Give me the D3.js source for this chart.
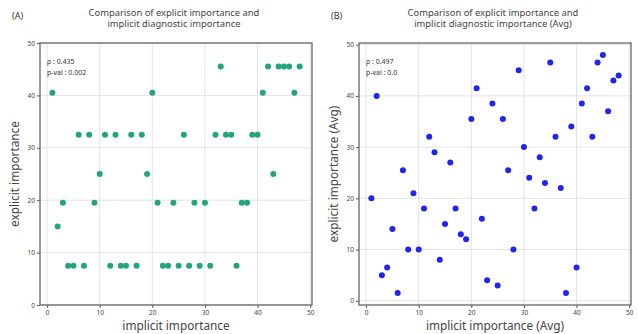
<!DOCTYPE html>
<html><head><meta charset="utf-8">
<script src="https://cdn.jsdelivr.net/npm/d3@7"></script>
<style>
html,body{margin:0;padding:0;background:#fff;}
svg{display:block;font-family:"Noto Sans","Open Sans",sans-serif;}
</style></head>
<body>
<svg id="chart" width="639" height="334"></svg>
<script>
// ---- data ----
const rankX = d3.range(1, 49); // implicit importance ranks 1..48
const explicitA = [40.5,15,19.5,7.5,7.5,32.5,7.5,32.5,19.5,25,32.5,7.5,32.5,7.5,7.5,32.5,7.5,32.5,25,40.5,
  19.5,7.5,7.5,19.5,7.5,32.5,7.5,19.5,7.5,19.5,7.5,32.5,45.5,32.5,32.5,7.5,19.5,19.5,32.5,32.5,
  40.5,45.5,25,45.5,45.5,45.5,40.5,45.5];
const explicitB = [20,40,5,6.5,14,1.5,25.5,10,21,10,18,32,29,8,15,27,18,13,12,35.5,
  41.5,16,4,38.5,3,35.5,25.5,10,45,30,24,18,28,23,46.5,32,22,1.5,34,6.5,
  38.5,41.5,32,46.5,48,37,43,44];
const ticks = [0,10,20,30,40,50];
const panelLabels = ["(A)","(B)"];
const titlesA = ["Comparison of explicit importance and","implicit diagnostic importance"];
const titlesB = ["Comparison of explicit importance and","implicit diagnostic importance (Avg)"];
const xLabels = ["implicit importance","implicit importance (Avg)"];
const yLabels = ["explicit importance","explicit importance (Avg)"];
const stats = [["ρ : 0.435","p-val : 0.002"],["ρ : 0.497","p-val : 0.0"]];
const colors = ["#22a678","#2323ee"];

const svg = d3.select("#chart");

const panels = [
  {ys: explicitA, left:40, right:312, top:43, bottom:305, xd:[-1.35,50.35], yd:[0,50],
   label:panelLabels[0], title:titlesA, xl:xLabels[0], yl:yLabels[0], st:stats[0], color:colors[0], lx:12, tx:174},
  {ys: explicitB, left:359, right:631, top:43, bottom:305, xd:[-1.35,50.35], yd:[-0.825,50.325],
   label:panelLabels[1], title:titlesB, xl:xLabels[1], yl:yLabels[1], st:stats[1], color:colors[1], lx:331, tx:493}
];

panels.forEach(p => {
  const x = d3.scaleLinear().domain(p.xd).range([p.left, p.right]);
  const y = d3.scaleLinear().domain(p.yd).range([p.bottom, p.top]);
  const g = svg.append("g");

  // grid
  g.append("g").selectAll("line.vx").data(ticks).join("line")
    .attr("x1", d => x(d)).attr("x2", d => x(d)).attr("y1", p.top).attr("y2", p.bottom)
    .attr("stroke", "#e3e3e3").attr("stroke-width", 1);
  g.append("g").selectAll("line.hy").data(ticks).join("line")
    .attr("y1", d => y(d)).attr("y2", d => y(d)).attr("x1", p.left).attr("x2", p.right)
    .attr("stroke", "#e3e3e3").attr("stroke-width", 1);

  // axes
  const xa = g.append("g").attr("transform", `translate(0,${p.bottom})`)
    .call(d3.axisBottom(x).tickValues(ticks).tickSize(3).tickPadding(2));
  const ya = g.append("g").attr("transform", `translate(${p.left},0)`)
    .call(d3.axisLeft(y).tickValues(ticks).tickSize(3).tickPadding(2));
  [xa, ya].forEach(a => {
    a.select(".domain").remove();
    a.selectAll(".tick line").attr("stroke", "#555");
    a.selectAll(".tick text").attr("fill", "#444").style("font-size", "6.5px")
      .style("font-family", '"Noto Sans",sans-serif');
  });

  // frame
  g.append("rect").attr("x", p.left).attr("y", p.top)
    .attr("width", p.right - p.left).attr("height", p.bottom - p.top)
    .attr("fill", "none").attr("stroke", "#666").attr("stroke-width", 1.3);

  // points
  g.append("g").selectAll("circle").data(rankX.map((v, i) => [v, p.ys[i]])).join("circle")
    .attr("cx", d => x(d[0])).attr("cy", d => y(d[1])).attr("r", 3)
    .attr("fill", p.color);

  // stats
  p.st.forEach((t, i) => {
    g.append("text").attr("x", p.left + 7).attr("y", 64 + i * 10.5)
      .attr("fill", "#333").style("font-size", "7px").text(t);
  });

  // titles
  g.append("text").attr("x", p.lx).attr("y", 19).attr("fill", "#333")
    .style("font-size", "9px").text(p.label);
  p.title.forEach((t, i) => {
    g.append("text").attr("x", p.tx).attr("y", 15.5 + i * 11.5).attr("text-anchor", "middle")
      .attr("fill", "#444").style("font-size", "9.4px").text(t);
  });

  // axis labels
  g.append("text").attr("x", (p.left + p.right) / 2).attr("y", 330).attr("text-anchor", "middle")
    .attr("fill", "#444").style("font-size", "11.8px").text(p.xl);
  g.append("text").attr("transform", `translate(${p.left - 21},${(p.top + p.bottom) / 2}) rotate(-90)`)
    .attr("text-anchor", "middle").attr("fill", "#444").style("font-size", "11.8px").text(p.yl);
});
</script>
</body></html>
